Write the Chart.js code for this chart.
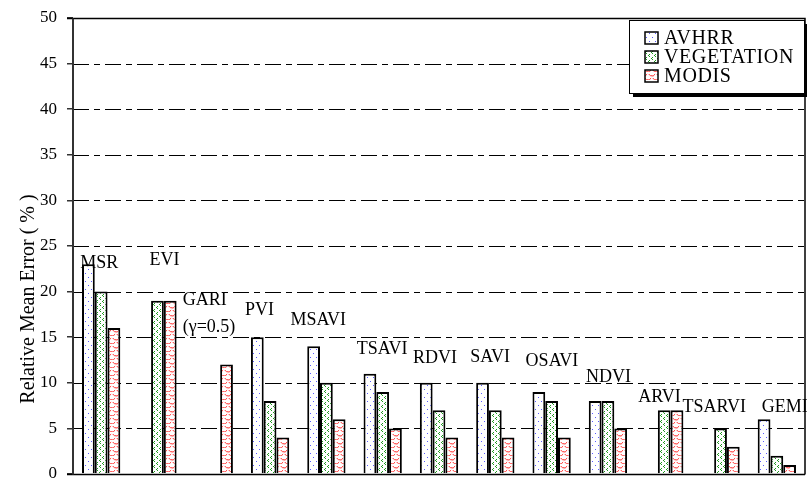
<!DOCTYPE html>
<html><head><meta charset="utf-8">
<script src="https://cdn.jsdelivr.net/npm/chart.js@4/dist/chart.umd.min.js"></script>
<style>html,body{margin:0;padding:0;background:#fff}#wrap{width:807px;height:481px;position:relative}</style>
</head><body><div id="wrap"><canvas id="c" width="807" height="481"></canvas></div>
<script>
const categories = ['MSR','EVI','GARI','PVI','MSAVI','TSAVI','RDVI','SAVI','OSAVI','NDVI','ARVI','TSARVI','GEMI'];
const categoryText = [['MSR'],['EVI'],['GARI','(γ=0.5)'],['PVI'],['MSAVI'],['TSAVI'],['RDVI'],['SAVI'],['OSAVI'],['NDVI'],['ARVI'],['TSARVI'],['GEMI']];
const seriesNames = ['AVHRR','VEGETATION','MODIS'];
const avhrr      = [23, null, null, 15, 14, 11, 10, 10, 9, 8, null, null, 6];
const vegetation = [20, 19,   null, 8,  10, 9,  7,  7,  8, 8, 7,    5,    2];
const modis      = [16, 19,   12,   4,  6,  5,  4,  4,  4, 5, 7,    3,    1];
const yTicks = [0,5,10,15,20,25,30,35,40,45,50];

// label placement (style): value-level of text centre and pixel offset from category centre
const labelLevels = [23.1, 23.4, 19.1, 18.0, 16.9, 13.7, 12.7, 12.8, 12.4, 10.6, 8.4, 7.3, 7.3];
const labelDx = [-21, -8, -31, -25, -36, -26, -26, -25, -26, -22, -26, -38, -15];

function makePattern(kind){
  const c=document.createElement('canvas');
  const x=c.getContext('2d');
  if(kind===0){
    c.width=6;c.height=8;
    x.fillStyle='#fff';x.fillRect(0,0,6,8);
    x.fillStyle='#5a5aff';
    x.fillRect(1,1,1,1);x.fillRect(4,5,1,1);
  } else if(kind===1){
    c.width=6;c.height=6;
    x.fillStyle='#fff';x.fillRect(0,0,6,6);
    x.fillStyle='#1f9a1f';
    x.fillRect(1,0,1,1);x.fillRect(0,1,1,1);x.fillRect(1,2,1,1);
    x.fillRect(4,3,1,1);x.fillRect(3,4,1,1);x.fillRect(4,5,1,1);
  } else {
    c.width=8;c.height=8;
    x.fillStyle='#fff';x.fillRect(0,0,8,8);
    x.strokeStyle='#ff2a2a';x.lineWidth=1;
    x.beginPath();x.arc(4,0.5,3.5,0.15*Math.PI,0.85*Math.PI);x.stroke();
    x.beginPath();x.arc(0,4.5,3.5,0.15*Math.PI,0.85*Math.PI);x.stroke();
    x.beginPath();x.arc(8,4.5,3.5,0.15*Math.PI,0.85*Math.PI);x.stroke();
  }
  const ctx=document.getElementById('c').getContext('2d');
  return ctx.createPattern(c,'repeat');
}
const patterns=[makePattern(0),makePattern(1),makePattern(2)];
const SERIF='"Liberation Serif","Times New Roman",serif';

const overlay={
  id:'overlay',
  beforeDatasetsDraw(chart){
    const {ctx,chartArea:a,scales:{y}}=chart;
    ctx.save();
    ctx.strokeStyle='#000';ctx.lineWidth=1;
    yTicks.forEach(v=>{
      if(v===0||v===50) return;
      const py=Math.round(y.getPixelForValue(v))+0.5;
      ctx.setLineDash([16,5,6,5]);
      ctx.beginPath();ctx.moveTo(a.left,py);ctx.lineTo(a.right,py);ctx.stroke();
    });
    ctx.setLineDash([]);
    ctx.fillStyle='#000';ctx.font='18px '+SERIF;ctx.textBaseline='middle';ctx.textAlign='left';
    const x=chart.scales.x;
    categoryText.forEach((lines,i)=>{
      const px=x.getPixelForValue(i)+labelDx[i];
      const py=y.getPixelForValue(labelLevels[i]);
      lines.forEach((t,k)=>ctx.fillText(t,px,py+k*27));
    });
    ctx.restore();
  },
  afterDraw(chart){
    const {ctx,chartArea:a,scales:{y}}=chart;
    ctx.save();
    ctx.strokeStyle='#000';ctx.lineWidth=1.5;
    const top=Math.round(y.getPixelForValue(50))+0.5;
    const bot=Math.round(y.getPixelForValue(0))+0.5;
    ctx.beginPath();ctx.moveTo(a.left-6,top);ctx.lineTo(a.right,top);ctx.lineTo(a.right,bot);ctx.stroke();
    ctx.beginPath();ctx.moveTo(a.left-6,bot);ctx.lineTo(a.right,bot);ctx.stroke();
    ctx.strokeStyle='#333';ctx.lineWidth=2;
    ctx.beginPath();ctx.moveTo(a.left,top);ctx.lineTo(a.left,bot);ctx.stroke();
    ctx.fillStyle='#000';ctx.font='20px '+SERIF;ctx.textAlign='center';ctx.textBaseline='alphabetic';
    ctx.translate(34,299);ctx.rotate(-Math.PI/2);ctx.fillText('Relative Mean Error ( % )',0,0);
    ctx.restore();
    ctx.save();
    const lx=629,ly=20,lw=175,lh=73;
    ctx.fillStyle='#000';ctx.fillRect(lx+4,ly+4,lw,lh);
    ctx.fillStyle='#fff';ctx.fillRect(lx,ly,lw,lh);
    ctx.strokeStyle='#000';ctx.lineWidth=1;ctx.strokeRect(lx+0.5,ly+0.5,lw,lh);
    ctx.font='20px '+SERIF;ctx.textBaseline='middle';ctx.textAlign='left';
    if('letterSpacing' in ctx) ctx.letterSpacing='0.6px';
    seriesNames.forEach((n,i)=>{
      const cy=ly+18+i*19;
      ctx.fillStyle=patterns[i];ctx.fillRect(645,cy-6,13,12);
      ctx.strokeStyle='#000';ctx.lineWidth=1.5;ctx.strokeRect(645,cy-6,13,12);
      ctx.fillStyle='#000';ctx.fillText(n,664,cy+1);
    });
    ctx.restore();
  }
};

const seriesData=[avhrr,vegetation,modis];
new Chart(document.getElementById('c'),{
  type:'bar',
  data:{labels:categories,datasets:seriesNames.map((n,i)=>({
    label:n,data:seriesData[i],backgroundColor:patterns[i],borderColor:'#000',borderWidth:2,
    categoryPercentage:0.68,barPercentage:1
  }))},
  options:{
    responsive:false,animation:false,
    layout:{padding:{top:18,right:2,left:0,bottom:0}},
    plugins:{legend:{display:false},tooltip:{enabled:false}},
    scales:{
      x:{ticks:{display:false},grid:{display:false},border:{display:false},
         afterFit(s){s.height=7;s.paddingLeft=0;s.paddingRight=0;}},
      y:{min:0,max:50,
         ticks:{stepSize:5,color:'#000',font:{family:SERIF,size:17},padding:10},
         grid:{drawOnChartArea:false,drawTicks:true,tickLength:6,color:'#333',lineWidth:1.5},
         border:{display:false},
         afterFit(s){s.width=73;s.paddingTop=0;s.paddingBottom=0;}}
    }
  },
  plugins:[overlay]
});
</script></body></html>
